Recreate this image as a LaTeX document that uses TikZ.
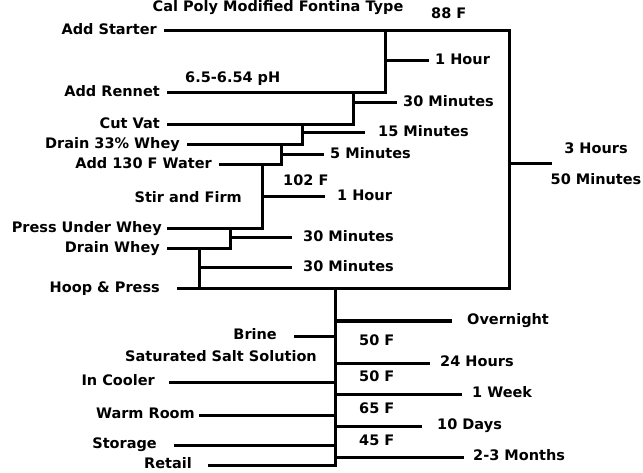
\documentclass[tikz,border=0pt]{standalone}
\usepackage{fontspec}
\setmainfont{DejaVu Sans}
\usetikzlibrary{positioning, calc}

\begin{document}
\begin{tikzpicture}[
  x=1pt, y=-1pt,
  font=\fontsize{14.5}{17}\selectfont\bfseries,
  stage/.style={anchor=east, inner xsep=8pt, inner ysep=0pt,
                text height=1.5ex, text depth=.25ex},
  dur/.style={anchor=west, inner xsep=8pt, inner ysep=0pt,
              text height=1.5ex, text depth=.25ex},
  temp/.style={anchor=west, inner sep=0pt, text height=1.5ex, text depth=.25ex},
  bar/.style={line width=3pt, line cap=rect, line join=miter}
]
  \useasboundingbox (0,0) rectangle (643,473);

  % Title
  \node[anchor=base] (title) at (278,12) {Cal Poly Modified Fontina Type};

  % Bracket columns
  \coordinate (jr) at (509,0);
  \coordinate (j1) at (385,0);
  \coordinate (j2) at (353,0);
  \coordinate (j3) at (302,0);
  \coordinate (j4) at (281,0);
  \coordinate (j5) at (262,0);
  \coordinate (j6) at (230,0);
  \coordinate (j7) at (199,0);
  \coordinate (j8) at (335,0);

  % Make steps
  \node[stage] (starter) at (165,31) {Add Starter};
  \node[stage] (rennet) at (168,93) {Add Rennet};
  \node[stage] (cut) at (168,125) {Cut Vat};
  \node[stage] (drain33) at (188,145) {Drain 33\% Whey};
  \node[stage] (water) at (220,165) {Add 130 F Water};
  \node[anchor=east, inner sep=0pt] (stir) at (242,197) {Stir and Firm};
  \node[stage, inner xsep=6pt] (press) at (168,229) {Press Under Whey};
  \node[stage] (drain) at (168,249) {Drain Whey};
  \node[stage, inner xsep=18pt] (hoop) at (178,289) {Hoop \& Press};

  % Temperatures
  \node[temp] (t88) at (431,15) {88 F};
  \node[temp] (ph) at (185,79) {6.5-6.54 pH};
  \node[temp] (t102) at (283,182) {102 F};

  % Times
  \node[dur] (hour1) at (427,61) {1 Hour};
  \node[dur] (min30a) at (395,103) {30 Minutes};
  \node[dur, inner xsep=15pt] (min15) at (363,133) {15 Minutes};
  \node[dur] (min5) at (322,155) {5 Minutes};
  \node[dur, inner xsep=14pt] (hour1b) at (323,197) {1 Hour};
  \node[dur, inner xsep=13pt] (min30b) at (290,238) {30 Minutes};
  \node[dur, inner xsep=13pt] (min30c) at (290,268) {30 Minutes};
  \node[align=center, inner sep=0pt] (total) at (596,164) {3 Hours\\[14pt]50 Minutes};

  % Make brackets
  \draw[bar] (starter.east) -- (starter.east -| jr) -- (hoop.east -| jr) -- (hoop.east);
  \draw[bar] (jr |- total.west) -- (total.west);
  \draw[bar] (starter.east -| j1) -- (rennet.east -| j1);
  \draw[bar] (rennet.east) -- (rennet.east -| j1);
  \draw[bar] (j1 |- hour1.west) -- (hour1.west);
  \draw[bar] (rennet.east -| j2) -- (cut.east -| j2);
  \draw[bar] (cut.east) -- (cut.east -| j2);
  \draw[bar] (j2 |- min30a.west) -- (min30a.west);
  \draw[bar] (cut.east -| j3) -- (drain33.east -| j3);
  \draw[bar] (drain33.east) -- (drain33.east -| j3);
  \draw[bar] (j3 |- min15.west) -- (min15.west);
  \draw[bar] (drain33.east -| j4) -- (water.east -| j4);
  \draw[bar] (water.east) -- (water.east -| j4);
  \draw[bar] (j4 |- min5.west) -- (min5.west);
  \draw[bar] (water.east -| j5) -- (press.east -| j5);
  \draw[bar] (press.east) -- (press.east -| j5);
  \draw[bar] (j5 |- hour1b.west) -- (hour1b.west);
  \draw[bar] (press.east -| j6) -- (drain.east -| j6);
  \draw[bar] (drain.east) -- (drain.east -| j6);
  \draw[bar] (j6 |- min30b.west) -- (min30b.west);
  \draw[bar] (drain.east -| j7) -- (hoop.east -| j7);
  \draw[bar] (j7 |- min30c.west) -- (min30c.west);

  % Salting and aging
  \node[stage, inner xsep=18pt] (brine) at (295,336) {Brine};
  \node[anchor=east, inner sep=0pt] (salt) at (317,356) {Saturated Salt Solution};
  \node[stage, inner xsep=15pt] (cooler) at (170,382) {In Cooler};
  \node[stage, inner xsep=5pt] (warm) at (200,415) {Warm Room};
  \node[stage, inner xsep=18pt] (storage) at (175,445) {Storage};
  \node[stage, inner xsep=17pt] (retail) at (209,465) {Retail};

  \node[temp] (t50a) at (359,342) {50 F};
  \node[temp] (t50b) at (359,378) {50 F};
  \node[temp] (t65) at (359,410) {65 F};
  \node[temp] (t45) at (359,442) {45 F};

  \node[dur, inner xsep=17pt] (night) at (450,321) {Overnight};
  \node[dur, inner xsep=12pt] (h24) at (428,363) {24 Hours};
  \node[dur, inner xsep=12pt] (week) at (460,394) {1 Week};
  \node[dur, inner xsep=17pt] (days) at (420,426) {10 Days};
  \node[dur, inner xsep=11pt] (months) at (462,457) {2-3 Months};

  \draw[bar] (hoop.east -| j8) -- (retail.east -| j8);
  \draw[bar] (brine.east) -- (brine.east -| j8);
  \draw[bar] (cooler.east) -- (cooler.east -| j8);
  \draw[bar] (warm.east) -- (warm.east -| j8);
  \draw[bar] (storage.east) -- (storage.east -| j8);
  \draw[bar] (retail.east) -- (retail.east -| j8);
  \draw[bar] (j8 |- night.west) -- (night.west);
  \draw[bar] (j8 |- h24.west) -- (h24.west);
  \draw[bar] (j8 |- week.west) -- (week.west);
  \draw[bar] (j8 |- days.west) -- (days.west);
  \draw[bar] (j8 |- months.west) -- (months.west);
\end{tikzpicture}
\end{document}
